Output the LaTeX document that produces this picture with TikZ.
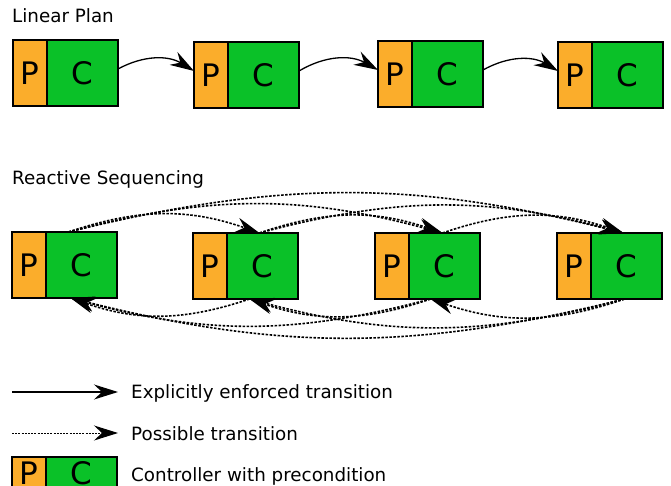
\documentclass[tikz,border=0pt]{standalone}
\usepackage{fontspec}
\setmainfont{DejaVu Sans}
\usetikzlibrary{positioning,arrows.meta}
\definecolor{precol}{RGB}{251,173,43}
\definecolor{ctrlcol}{RGB}{10,193,40}
\tikzset{
  pbox/.style={draw,line width=1.6pt,fill=precol,minimum width=34pt,minimum height=66pt,inner sep=0pt,outer sep=0pt,font=\fontsize{31}{33}\selectfont},
  cbox/.style={draw,line width=1.6pt,fill=ctrlcol,minimum width=71pt,minimum height=66pt,inner sep=0pt,outer sep=0pt,font=\fontsize{31}{33}\selectfont},
  enforced/.style={line width=1.3pt,-{Stealth[length=24pt,width=15pt,inset=8pt]}},
  possible/.style={line width=1.6pt,dash pattern=on 2.5pt off 1.5pt,-{Stealth[length=24pt,width=15pt,inset=8pt]}},
  label/.style={anchor=base west,inner sep=0pt,font=\fontsize{18.3}{21}\selectfont}
}
\begin{document}
\begin{tikzpicture}[x=1pt,y=1pt]
    \useasboundingbox (0,0) rectangle (671,485);
    \clip (0,0) rectangle (671,485);
    % linear plan
    \node [label] (lptitle) at (12,462) {Linear Plan};
    \node [pbox,anchor=north west] (lp1) at (13,445) {P};
    \node [cbox,right=0pt of lp1] (lc1) {C};
    \node [pbox,anchor=north west] (lp2) at (194,443) {P};
    \node [cbox,right=0pt of lp2] (lc2) {C};
    \node [pbox,anchor=north west] (lp3) at (378,444) {P};
    \node [cbox,right=0pt of lp3] (lc3) {C};
    \node [pbox,anchor=north west] (lp4) at (558,443) {P};
    \node [cbox,right=0pt of lp4] (lc4) {C};
    \draw [enforced] ([yshift=4pt]lc1.east) to[bend left=30] ([yshift=4pt]lp2.west);
    \draw [enforced] ([yshift=4pt]lc2.east) to[bend left=30] ([yshift=4pt]lp3.west);
    \draw [enforced] ([yshift=4pt]lc3.east) to[bend left=30] ([yshift=4pt]lp4.west);
    % reactive sequencing
    \node [label] (rstitle) at (12,300) {Reactive Sequencing};
    \node [pbox,anchor=north west] (rp1) at (12,253) {P};
    \node [cbox,right=0pt of rp1] (rc1) {C};
    \node [pbox,anchor=north west] (rp2) at (193,252) {P};
    \node [cbox,right=0pt of rp2] (rc2) {C};
    \node [pbox,anchor=north west] (rp3) at (375,252) {P};
    \node [cbox,right=0pt of rp3] (rc3) {C};
    \node [pbox,anchor=north west] (rp4) at (557,252) {P};
    \node [cbox,right=0pt of rp4] (rc4) {C};
    \coordinate (t1) at ([xshift=-13pt]rc1.north);
    \coordinate (t2) at ([xshift=-3pt]rc2.north);
    \coordinate (t3) at ([xshift=-2pt]rc3.north);
    \coordinate (t4) at ([xshift=-3pt]rc4.north);
    \coordinate (b1) at ([xshift=-11pt]rc1.south);
    \coordinate (b2) at ([xshift=-13pt]rc2.south);
    \coordinate (b3) at ([xshift=-14pt]rc3.south);
    \coordinate (b4) at ([xshift=-2pt]rc4.south);
    \draw [possible] (t1) to[bend left=19] (t2);
    \draw [possible] (t1) to[bend left=15] (t3);
    \draw [possible] (t1) to[bend left=14] (t4);
    \draw [possible] (t2) to[bend left=19] (t3);
    \draw [possible] (t2) to[bend left=15] (t4);
    \draw [possible] (t3) to[bend left=19] (t4);
    \draw [possible] (b4) to[bend left=19] (b3);
    \draw [possible] (b4) to[bend left=15] (b2);
    \draw [possible] (b4) to[bend left=14] (b1);
    \draw [possible] (b3) to[bend left=19] (b2);
    \draw [possible] (b3) to[bend left=15] (b1);
    \draw [possible] (b2) to[bend left=19] (b1);
    % legend
    \coordinate (es) at (12,93);
    \coordinate (ee) at (118,93);
    \draw [enforced] (es) -- (ee);
    \node [label] (elabel) at (131,87) {Explicitly enforced transition};
    \coordinate (ps) at (12,52);
    \coordinate (pe) at (118,52);
    \draw [possible,line width=1pt,dash pattern=on 2pt off 1.2pt] (ps) -- (pe);
    \node [label] (plabel) at (131,45) {Possible transition};
    \node [pbox,anchor=north west,minimum height=32pt] (legp) at (12,28) {P};
    \node [cbox,right=0pt of legp,minimum height=32pt] (legc) {C};
    \node [label] (clabel) at (131,4) {Controller with precondition};
\end{tikzpicture}
\end{document}
